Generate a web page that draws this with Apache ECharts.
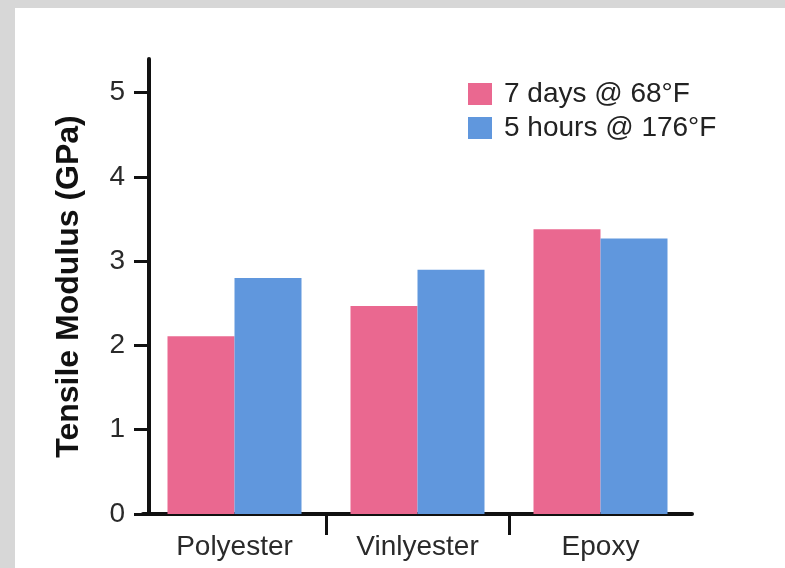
<!DOCTYPE html>
<html><head><meta charset="utf-8">
<script src="https://cdn.jsdelivr.net/npm/echarts@6/dist/echarts.min.js"></script>
<style>
html,body{margin:0;padding:0;background:#d7d7d7;width:785px;height:568px;overflow:hidden}
#c{position:absolute;left:15px;top:8px;width:770px;height:560px;background:#fff}
</style>
</head><body><div id="c"></div>
<script>
const categories = ['Polyester', 'Vinlyester', 'Epoxy'];
const seriesNames = ['7 days @ 68°F', '5 hours @ 176°F'];
const days7At68F = [2.11, 2.47, 3.38];
const hours5At176F = [2.80, 2.90, 3.27];
const yTickValues = [0, 1, 2, 3, 4, 5];
const categoryDividers = [1, 2];

const FONT = '"Liberation Sans", Arial, Helvetica, sans-serif';
const chart = echarts.init(document.getElementById('c'), null, {renderer: 'canvas'});
chart.setOption({
  animation: false,
  backgroundColor: '#ffffff',
  textStyle: {fontFamily: FONT},
  legend: {
    orient: 'vertical',
    left: 453,
    top: 72,
    padding: 0,
    itemWidth: 24,
    itemHeight: 22,
    itemGap: 6,
    icon: 'rect',
    data: seriesNames,
    textStyle: {fontFamily: FONT, fontSize: 28, color: '#222', lineHeight: 28, padding: [0, 0, 0, 7]}
  },
  grid: {left: 128, right: 93, top: 51, bottom: 54, containLabel: false},
  xAxis: [{
    type: 'category',
    data: categories,
    boundaryGap: true,
    axisLine: {show: true, lineStyle: {color: '#111', width: 4}},
    axisTick: {show: false},
    axisLabel: {fontFamily: FONT, fontSize: 28, color: '#2a2a2a', margin: 19},
    splitLine: {show: false}
  }, {
    type: 'value',
    min: 0, max: 3, interval: 1,
    position: 'bottom',
    axisLine: {show: false},
    axisTick: {show: true, length: 21, customValues: categoryDividers, lineStyle: {color: '#111', width: 3}},
    axisLabel: {show: false},
    splitLine: {show: false}
  }],
  yAxis: {
    type: 'value',
    min: 0, max: 5.4, interval: 1,
    offset: -6,
    name: 'Tensile Modulus (GPa)',
    nameLocation: 'middle',
    nameRotate: 90,
    nameGap: 64,
    nameTextStyle: {fontFamily: FONT, fontSize: 32, fontWeight: 'bold', color: '#111'},
    axisLine: {show: true, lineStyle: {color: '#111', width: 4}},
    axisTick: {show: true, length: 15, customValues: yTickValues, lineStyle: {color: '#111', width: 3}},
    axisLabel: {fontFamily: FONT, fontSize: 28, color: '#2a2a2a', margin: 24, customValues: yTickValues},
    splitLine: {show: false}
  },
  series: [{
    name: seriesNames[0],
    type: 'bar',
    xAxisIndex: 0,
    data: days7At68F,
    barWidth: 67,
    barGap: '0%',
    itemStyle: {color: '#ea6890'}
  }, {
    name: seriesNames[1],
    type: 'bar',
    xAxisIndex: 0,
    data: hours5At176F,
    barWidth: 67,
    barGap: '0%',
    itemStyle: {color: '#6097dd'}
  }]
});
</script>
</body></html>
